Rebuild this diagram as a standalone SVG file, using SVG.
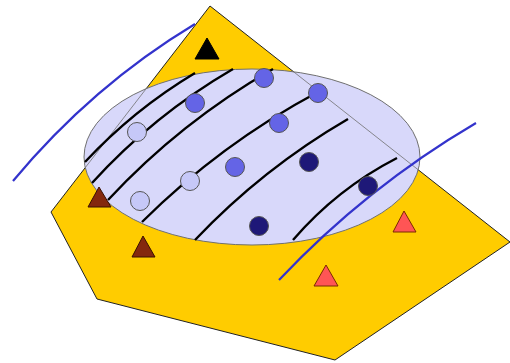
<svg xmlns="http://www.w3.org/2000/svg" width="510" height="363" viewBox="0 0 510 363">
<style>
.poly{fill:#ffcc00;stroke:#222;stroke-width:1}
.edge{fill:none;stroke:#707070;stroke-width:0.8}
.ell{fill:#d8d8fa;stroke:#707070;stroke-width:1}
.blk{fill:none;stroke:#000;stroke-width:2.4;stroke-linecap:butt}
.blue{fill:none;stroke:#3333cc;stroke-width:2.2}
.c1{fill:#c6c8f8;stroke:#555;stroke-width:1}
.c2{fill:#6464e6;stroke:#555;stroke-width:1}
.c3{fill:#1e1878;stroke:#555;stroke-width:1}
.tk{fill:#000;stroke:#000;stroke-width:1}
.tb{fill:#84280e;stroke:#3a1000;stroke-width:1}
.tc{fill:#ff5555;stroke:#7a2a00;stroke-width:1}
</style>
<defs>
<clipPath id="ellclip"><ellipse cx="252" cy="157" rx="168" ry="88"/></clipPath>
</defs>
<g id="plane">
<polygon class="poly" points="210,6 510,242 335,360 97,299 51,212"/>
</g>
<g id="region">
<ellipse class="ell" cx="252" cy="157" rx="168" ry="88"/>
<polygon class="edge" clip-path="url(#ellclip)" points="210,6 510,242 335,360 97,299 51,212"/>
</g>
<g id="curves">
<path class="blk" d="M85,162 Q133.7,109.7 195,73"/>
<path class="blk" d="M92,183 Q153.7,115.1 233,69"/>
<path class="blk" d="M108,200 Q180.5,122 273,69"/>
<path class="blk" d="M142,222 Q220.5,144 318,92"/>
<path class="blk" d="M195,240 Q262.8,168.5 348,119"/>
<path class="blk" d="M293,240 Q337,188.8 397,158"/>
</g>
<g id="lines">
<path class="blue" d="M13,181 Q92,86 195,24"/>
<path class="blue" d="M279,280 Q366.3,187.4 476,123"/>
</g>
<g id="points">
<circle class="c1" cx="137" cy="132" r="9.5"/>
<circle class="c1" cx="190" cy="181" r="9.5"/>
<circle class="c1" cx="140" cy="201" r="9.5"/>
<circle class="c2" cx="195" cy="103" r="9.5"/>
<circle class="c2" cx="264" cy="78" r="9.5"/>
<circle class="c2" cx="318" cy="93" r="9.5"/>
<circle class="c2" cx="279" cy="123" r="9.5"/>
<circle class="c2" cx="235" cy="167" r="9.5"/>
<circle class="c3" cx="309" cy="162" r="9.5"/>
<circle class="c3" cx="368" cy="186" r="9.5"/>
<circle class="c3" cx="259" cy="226" r="9.5"/>
</g>
<g id="triangles">
<polygon class="tk" points="207,38 219,59 195,59"/>
<polygon class="tb" points="99,187 111,207 88,207"/>
<polygon class="tb" points="143,236 155,257 132,257"/>
<polygon class="tc" points="404,211 416,232 393,232"/>
<polygon class="tc" points="326,265 338,286 314,286"/>
</g>
</svg>
